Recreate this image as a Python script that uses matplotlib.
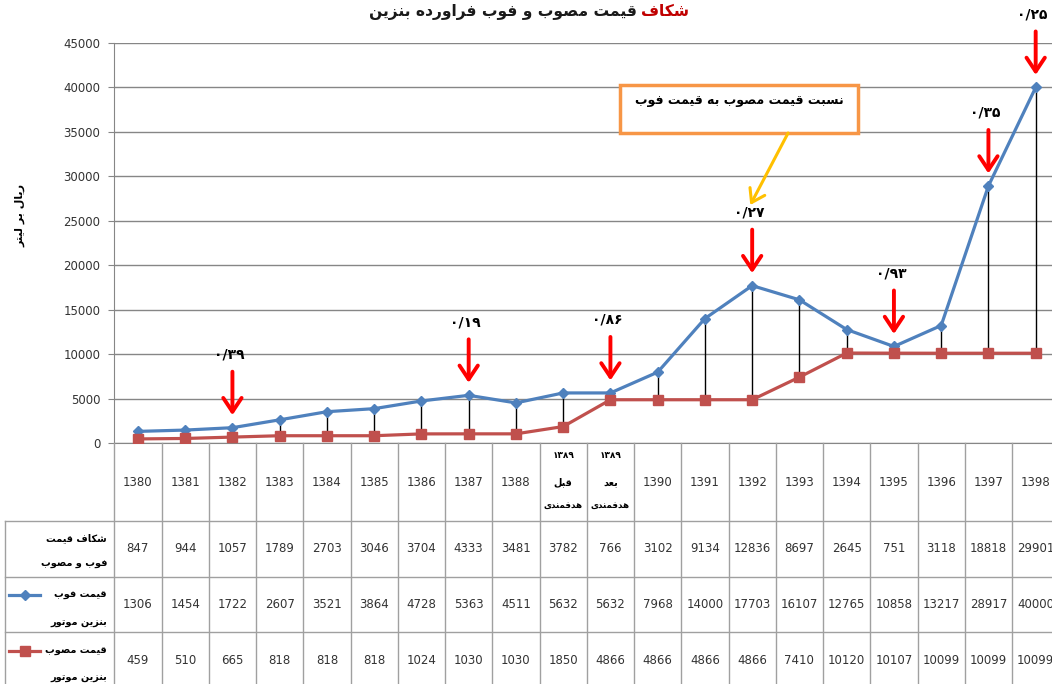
import matplotlib
matplotlib.use("Agg")
import matplotlib.pyplot as plt
from matplotlib.patches import Rectangle

# ---- data ----
year_labels = ["1380", "1381", "1382", "1383", "1384", "1385", "1386", "1387", "1388",
               "1389\nقبل\nهدفمندی", "1389\nبعد\nهدفمندی",
               "1390", "1391", "1392", "1393", "1394", "1395", "1396", "1397", "1398"]
fob_price = [1306, 1454, 1722, 2607, 3521, 3864, 4728, 5363, 4511, 5632,
             5632, 7968, 14000, 17703, 16107, 12765, 10858, 13217, 28917, 40000]
approved_price = [459, 510, 665, 818, 818, 818, 1024, 1030, 1030, 1850,
                  4866, 4866, 4866, 4866, 7410, 10120, 10107, 10099, 10099, 10099]
price_gap = [847, 944, 1057, 1789, 2703, 3046, 3704, 4333, 3481, 3782,
             766, 3102, 9134, 12836, 8697, 2645, 751, 3118, 18818, 29901]
arrow_idx = [2, 7, 10, 13, 16, 18, 19]

title_red = "شکاف"
title_rest = "قیمت مصوب و فوب فراورده بنزین"
ylabel = "ریال بر لیتر"
box_text = "نسبت قیمت مصوب به قیمت فوب"
row_labels = ["شکاف قیمت\nفوب و مصوب", "قیمت فوب\nبنزین موتور", "قیمت مصوب\nبنزین موتور"]

BLUE = "#4F81BD"
RED = "#C0504D"
GRID = "#868686"
TBL = "#A0A0A0"

# minimal persian shaping (matplotlib does no arabic shaping / bidi)
FORMS = {
    "\u0627": "\ufe8d\ufe8e", "\u062f": "\ufea9\ufeaa", "\u0631": "\ufead\ufeae",
    "\u0632": "\ufeaf\ufeb0", "\u0648": "\ufeed\ufeee",
    "\u0628": "\ufe8f\ufe90\ufe91\ufe92", "\u062a": "\ufe95\ufe96\ufe97\ufe98",
    "\u0633": "\ufeb1\ufeb2\ufeb3\ufeb4", "\u0634": "\ufeb5\ufeb6\ufeb7\ufeb8",
    "\u0635": "\ufeb9\ufeba\ufebb\ufebc", "\u0639": "\ufec9\ufeca\ufecb\ufecc",
    "\u0641": "\ufed1\ufed2\ufed3\ufed4", "\u0642": "\ufed5\ufed6\ufed7\ufed8",
    "\u0644": "\ufedd\ufede\ufedf\ufee0", "\u0645": "\ufee1\ufee2\ufee3\ufee4",
    "\u0646": "\ufee5\ufee6\ufee7\ufee8", "\u0647": "\ufee9\ufeea\ufeeb\ufeec",
    "\u06a9": "\ufb8e\ufb8f\ufb90\ufb91", "\u06cc": "\ufbfc\ufbfd\ufbfe\ufbff",
}
FA_DIGITS = str.maketrans("0123456789", "۰۱۲۳۴۵۶۷۸۹")


def fa(text):
    out_lines = []
    for line in text.split("\n"):
        out = []
        for i, ch in enumerate(line):
            f = FORMS.get(ch)
            if f is None:
                out.append(ch)
                continue
            prev = FORMS.get(line[i - 1]) if i > 0 else None
            nxt = line[i + 1] if i + 1 < len(line) else ""
            jp = prev is not None and len(prev) == 4
            jn = len(f) == 4 and nxt in FORMS
            out.append(f[3] if jp and jn else f[1] if jp else f[2] if jn else f[0])
        out_lines.append("".join(out)[::-1])
    return "\n".join(out_lines)


W, H = 1052, 684
fig = plt.figure(figsize=(W / 100, H / 100), dpi=100)
x0, x1 = 114.3, 1059.3
ax = fig.add_axes([x0 / W, (H - 443) / H, (x1 - x0) / W, 400 / H])

n = len(fob_price)
xs = list(range(n))
ax.vlines(xs, approved_price, fob_price, color="black", lw=1, zorder=2)
ax.plot(xs, fob_price, color=BLUE, lw=2.3, marker="D", ms=5.5, zorder=3)
ax.plot(xs, approved_price, color=RED, lw=2.3, marker="s", ms=7, zorder=3)

ax.set_xlim(-0.5, n - 0.5)
ax.set_ylim(0, 45000)
ax.set_yticks(range(0, 45001, 5000))
ax.set_xticks([])
ax.yaxis.grid(True, color=GRID, lw=1)
ax.set_axisbelow(True)
for s in ["top", "right"]:
    ax.spines[s].set_visible(False)
for s in ["left", "bottom"]:
    ax.spines[s].set_color(GRID)
ax.tick_params(axis="y", length=4, color=GRID, labelsize=8.5, labelcolor="#333333", pad=6)

# ratio arrows
for i in arrow_idx:
    ratio = f"{approved_price[i] / fob_price[i]:.2f}".replace(".", "/").translate(FA_DIGITS)
    ax.annotate("", xy=(i, fob_price[i]), xytext=(0, 56), textcoords="offset pixels",
                arrowprops=dict(arrowstyle="->,head_length=0.45,head_width=0.3", color="red",
                                lw=2.8, shrinkA=0, shrinkB=9, mutation_scale=22), zorder=5)
    ax.annotate(ratio, xy=(i, fob_price[i]), xytext=(-3, 73), textcoords="offset pixels",
                ha="center", va="center", fontsize=10, fontweight="bold", zorder=5)

# orange note box
ax.add_patch(Rectangle((0.535, 0.775), 0.252, 0.12, transform=ax.transAxes, fill=True,
                       facecolor="white", edgecolor="#F79646", lw=2.5, zorder=6))
ax.text(0.661, 0.857, fa(box_text), transform=ax.transAxes, ha="center", va="center",
        fontsize=9, fontweight="bold", zorder=7)
ax.annotate("", xy=(0.673, 0.595), xytext=(0.713, 0.775), xycoords="axes fraction",
            textcoords="axes fraction",
            arrowprops=dict(arrowstyle="->,head_length=0.45,head_width=0.3", color="#FFC000",
                            lw=2.2, shrinkA=0, shrinkB=0, mutation_scale=20), zorder=6)

# title (red first word on the right)
fig.canvas.draw()
r = fig.canvas.get_renderer()
t1 = fig.text(529 / W, 1 - 12 / H, fa(title_rest), ha="center", va="center",
              fontsize=11.2, fontweight="bold", color="#1a1a1a")
t2 = fig.text(0, 1 - 12 / H, fa(title_red), ha="left", va="center",
              fontsize=11.2, fontweight="bold", color="#C00000")
w1 = t1.get_window_extent(r).width
w2 = t2.get_window_extent(r).width
cx = 529
t1.set_position(((cx - (w1 + w2 + 5) / 2 + w1) / W, 1 - 12 / H))
t1.set_ha("right")
t2.set_position(((cx - (w1 + w2 + 5) / 2 + w1 + 5) / W, 1 - 12 / H))

fig.text(20 / W, 1 - 215 / H, fa(ylabel), rotation=90, ha="center", va="center",
         fontsize=8, fontweight="bold")

# data table below the axis
tb = fig.add_axes([x0 / W, (H - 688) / H, (x1 - x0) / W, 245 / H])
tb.set_xlim(-0.5, n - 0.5)
tb.set_ylim(245, 0)
tb.axis("off")
xl = -0.5 - (x0 - 5) / 47.25
for y in [78, 134, 189, 245]:
    tb.plot([xl, n - 0.5], [y, y], color=TBL, lw=1, clip_on=False)
for k in range(n + 1):
    tb.plot([k - 0.5, k - 0.5], [0, 245], color=TBL, lw=1, clip_on=False)
tb.plot([xl, xl], [78, 245], color=TBL, lw=1, clip_on=False)

for i, lab in enumerate(year_labels):
    if "\n" in lab:
        yr, a, b = lab.split("\n")
        tb.text(i, 12, yr.translate(FA_DIGITS), ha="center", va="center", fontsize=6.5, fontweight="bold")
        tb.text(i, 39, fa(a), ha="center", va="center", fontsize=7, fontweight="bold")
        tb.text(i, 62, fa(b), ha="center", va="center", fontsize=6.3, fontweight="bold")
    else:
        tb.text(i, 39, lab, ha="center", va="center", fontsize=8.5, color="#333333")
    for row, yy in zip([price_gap, fob_price, approved_price], [106, 161.5, 217]):
        tb.text(i, yy, str(row[i]), ha="center", va="center", fontsize=8.5, color="#333333")

xr = -0.5 - (x0 - 107) / 47.25
for lab, (ya, yb) in zip(row_labels, [(95, 121), (152, 180), (208, 235)]):
    a, b = lab.split("\n")
    tb.text(xr, ya, fa(a), ha="right", va="center", fontsize=7, fontweight="bold", clip_on=False)
    tb.text(xr, yb, fa(b), ha="right", va="center", fontsize=7, fontweight="bold", clip_on=False)

kx = [-0.5 - (x0 - 9) / 47.25, -0.5 - (x0 - 40) / 47.25]
tb.plot(kx, [152, 152], color=BLUE, lw=2.3, clip_on=False)
tb.plot([sum(kx) / 2], [152], color=BLUE, marker="D", ms=5.5, clip_on=False)
tb.plot(kx, [208, 208], color=RED, lw=2.3, clip_on=False)
tb.plot([sum(kx) / 2], [208], color=RED, marker="s", ms=7, clip_on=False)

fig.savefig("out.png", dpi=100)
